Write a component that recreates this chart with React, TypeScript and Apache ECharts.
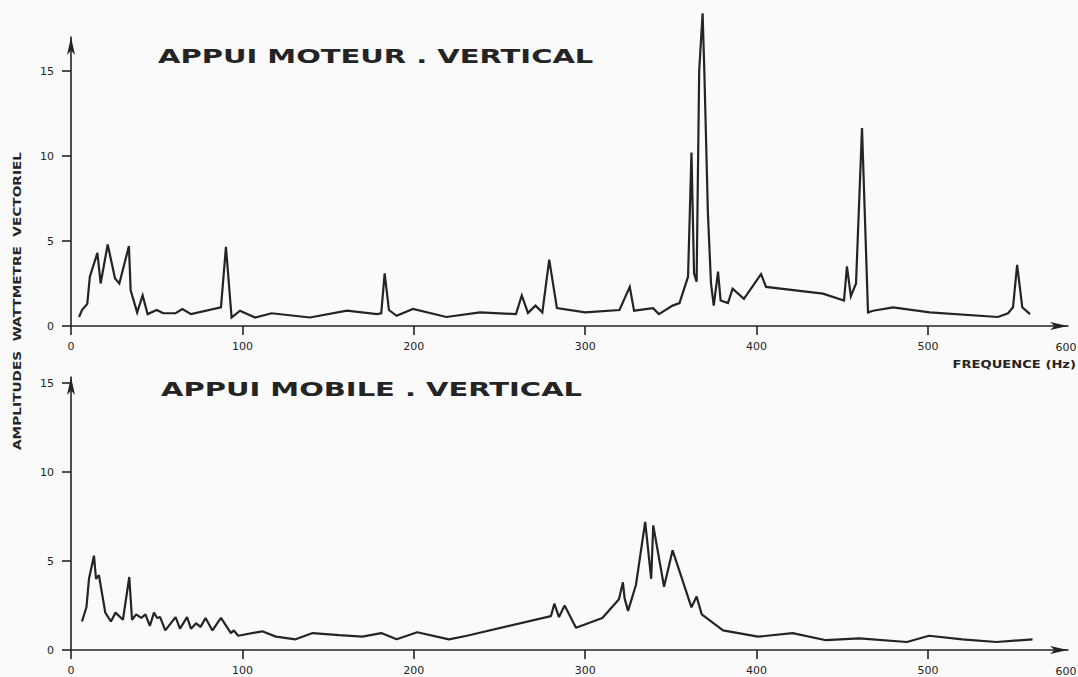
import React, { useEffect, useRef } from "react";
import * as echarts from "echarts";

// ---- Data ----
const freqTop = [
  4.7, 6.4, 9.5, 11, 15.4, 17.3, 21.4, 25.7, 28.2, 33.8, 34.8, 38.6, 41.8, 44.7, 50, 53.8, 61, 65, 70,
  87.5, 90.4, 93.7, 98.6, 107.4, 117, 139.4, 161, 178.5, 181, 183, 185.5, 190, 199.5, 219, 238.6,
  259.6, 263, 266.6, 271, 275, 279, 283.5, 300, 320, 326, 328.5, 339.6, 343, 351, 355, 360, 362,
  363.5, 365, 366.5, 368.5, 369.5, 371.6, 373.4, 375, 377.5, 379, 383.3, 386, 392.6, 402.6, 405.5,
  438.7, 451, 452.7, 455, 458, 461.5, 465, 468, 479.6, 501, 540.8, 546.7, 549.6, 552, 555, 559.5,
];
const ampTop = [
  0.53, 0.94, 1.3, 2.9, 4.3, 2.5, 4.8, 2.8, 2.5, 4.7, 2.1, 0.8, 1.8, 0.7, 0.94, 0.75, 0.75, 1.0, 0.7,
  1.1, 4.65, 0.5, 0.9, 0.5, 0.75, 0.5, 0.9, 0.7, 0.75, 3.1, 0.94, 0.6, 1.0, 0.53, 0.8,
  0.7, 1.8, 0.77, 1.2, 0.8, 3.9, 1.05, 0.8, 0.94, 2.3, 0.9, 1.05, 0.7, 1.2, 1.35, 2.9, 10.2,
  3.1, 2.6, 15.0, 18.4, 15.0, 6.6, 2.5, 1.2, 3.2, 1.5, 1.35, 2.2, 1.6, 3.05, 2.3,
  1.9, 1.5, 3.5, 1.75, 2.5, 11.65, 0.8, 0.9, 1.1, 0.8, 0.53, 0.75, 1.1, 3.6, 1.1, 0.7,
];

const freqBottom = [
  6.4, 9, 10.5, 13.4, 14.6, 16.3, 20, 23.3, 26, 30.3, 34, 35.6, 38, 41, 43.4, 46, 48.4, 50.3, 52, 55,
  61, 63.6, 67.7, 70, 73, 75.6, 78.5, 82.5, 87.5, 93.3, 95, 97.5, 111.5, 119.6, 131, 141, 156.4, 170,
  181, 190, 202, 220.5, 231, 280, 282, 284.7, 288, 294.6, 310, 319.7, 322, 323, 325, 329.6, 335,
  338.5, 339.7, 346, 351, 362, 365, 368, 380.4, 400.8, 421, 440.5, 460, 487.7, 500.6, 520, 540, 561,
];
const ampBottom = [
  1.6, 2.4, 4.0, 5.3, 4.0, 4.2, 2.1, 1.6, 2.1, 1.7, 4.1, 1.7, 2.0, 1.8, 2.0, 1.35, 2.1, 1.8, 1.85, 1.1,
  1.85, 1.2, 1.85, 1.2, 1.5, 1.3, 1.8, 1.1, 1.8, 0.95, 1.1, 0.8, 1.05, 0.75, 0.6, 0.95, 0.84, 0.75,
  0.95, 0.6, 1.0, 0.6, 0.8, 1.9, 2.6, 1.85, 2.5, 1.25, 1.8, 2.85, 3.8, 2.9, 2.2, 3.65, 7.2,
  4.0, 7.0, 3.55, 5.6, 2.4, 3.0, 2.0, 1.1, 0.75, 0.95, 0.55, 0.65, 0.45, 0.8, 0.6, 0.45, 0.6,
];

const xTickValues = [0, 100, 200, 300, 400, 500];
const yTickValues = [0, 5, 10, 15];
const xExtraLabel = "600";

const titleTop = "APPUI MOTEUR . VERTICAL";
const titleBottom = "APPUI MOBILE . VERTICAL";
const yName = "AMPLITUDES  WATTMETRE  VECTORIEL";
const xName = "FREQUENCE (Hz)";

// ---- Layout ----
const W = 1078;
const H = 677;
const X0 = 71;
const X_END = 1068;
const PX_PER_HZ = 1.714;
const X_MAX = (X_END - X0) / PX_PER_HZ;

const TOP_Y0 = 326;
const TOP_END = 37;
const TOP_PX = 17;
const BOT_Y0 = 650;
const BOT_END = 377;
const BOT_PX = 17.8;

const INK = "#242424";
const FONT = "'DejaVu Sans', 'Liberation Sans', sans-serif";

function pairs(xs: number[], ys: number[]) {
  return xs.map((x, i) => [x, ys[i]]);
}

function makeXAxis(gridIndex: number) {
  return {
    type: "value",
    gridIndex,
    min: 0,
    max: X_MAX,
    axisLine: {
      show: true,
      onZero: false,
      symbol: ["none", "arrow"],
      symbolSize: [6, 18],
      lineStyle: { color: INK, width: 1.6 },
    },
    axisTick: {
      show: true,
      customValues: xTickValues,
      length: 9,
      lineStyle: { color: INK, width: 1.6 },
    },
    axisLabel: {
      show: true,
      customValues: xTickValues,
      margin: 15,
      fontSize: 11,
      color: INK,
      fontFamily: FONT,
    },
    splitLine: { show: false },
  };
}

function makeYAxis(gridIndex: number, max: number) {
  return {
    type: "value",
    gridIndex,
    min: 0,
    max,
    axisLine: {
      show: true,
      onZero: false,
      symbol: ["none", "arrow"],
      symbolSize: [6, 18],
      lineStyle: { color: INK, width: 1.6 },
    },
    axisTick: {
      show: true,
      customValues: yTickValues,
      length: 9,
      lineStyle: { color: INK, width: 1.6 },
    },
    axisLabel: {
      show: true,
      customValues: yTickValues,
      margin: 17,
      fontSize: 11,
      color: INK,
      fontFamily: FONT,
    },
    splitLine: { show: false },
  };
}

function textEl(
  text: string,
  x: number,
  y: number,
  size: number,
  opts: { bold?: boolean; scaleX?: number; align?: string; rotation?: number } = {}
) {
  return {
    type: "text",
    x,
    y,
    scaleX: opts.scaleX ?? 1,
    rotation: opts.rotation ?? 0,
    silent: true,
    style: {
      text,
      fill: INK,
      fontSize: size,
      fontFamily: FONT,
      fontWeight: opts.bold ? "bold" : "normal",
      align: opts.align ?? "left",
      verticalAlign: "middle",
    },
  };
}

export default function App() {
  const ref = useRef<HTMLDivElement>(null);

  useEffect(() => {
    if (!ref.current) return;
    const chart = echarts.init(ref.current, null, { renderer: "svg" });
    const option = {
      animation: false,
      backgroundColor: "#fafafa",
      grid: [
        { left: X0, top: TOP_END, width: X_END - X0, height: TOP_Y0 - TOP_END },
        { left: X0, top: BOT_END, width: X_END - X0, height: BOT_Y0 - BOT_END },
      ],
      xAxis: [makeXAxis(0), makeXAxis(1)],
      yAxis: [
        makeYAxis(0, (TOP_Y0 - TOP_END) / TOP_PX),
        makeYAxis(1, (BOT_Y0 - BOT_END) / BOT_PX),
      ],
      series: [
        {
          type: "line",
          xAxisIndex: 0,
          yAxisIndex: 0,
          data: pairs(freqTop, ampTop),
          symbol: "none",
          showSymbol: false,
          clip: false,
          lineStyle: { color: INK, width: 2.2, join: "miter" },
        },
        {
          type: "line",
          xAxisIndex: 1,
          yAxisIndex: 1,
          data: pairs(freqBottom, ampBottom),
          symbol: "none",
          showSymbol: false,
          clip: false,
          lineStyle: { color: INK, width: 2.2 },
        },
      ],
      graphic: [
        textEl(titleTop, 158, 56, 20, { bold: true, scaleX: 1.45 }),
        textEl(titleBottom, 161, 389, 20, { bold: true, scaleX: 1.45 }),
        textEl(yName, 18, 450, 10, { bold: true, scaleX: 1.37, rotation: Math.PI / 2 }),
        textEl(xName, 1076, 364, 10.5, { bold: true, scaleX: 1.25, align: "right" }),
        textEl(xExtraLabel, 1066, 347, 11, { align: "center" }),
        textEl(xExtraLabel, 1066, 671, 11, { align: "center" }),
      ],
    };
    chart.setOption(option as any);
    return () => chart.dispose();
  }, []);

  return (
    <div
      ref={ref}
      style={{ position: "fixed", left: 0, top: 0, width: W, height: H }}
    />
  );
}
